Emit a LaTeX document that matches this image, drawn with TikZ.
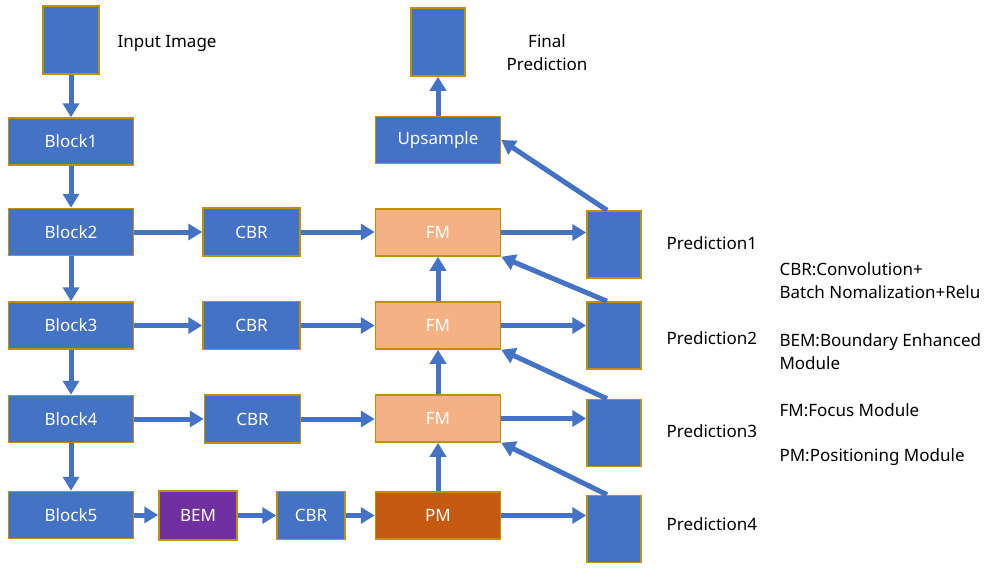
\documentclass[tikz,border=0pt]{standalone}
\usepackage{fontspec}
\setmainfont{Noto Sans}
\usepackage{xcolor}
\usepackage{tikz}
\usetikzlibrary{arrows,arrows.meta,positioning,shapes,calc}
\definecolor{boxblue}{HTML}{4472C4}
\definecolor{boxgold}{HTML}{BF9000}
\definecolor{fmorange}{HTML}{F4B183}
\definecolor{pmorange}{HTML}{C55A11}
\definecolor{bempurple}{HTML}{7030A0}
\tikzset{
  blk/.style = {draw = boxgold, line width = 1.5pt, fill = boxblue, text = white, inner sep = 0pt},
  wide/.style = {blk, minimum width = 125pt, minimum height = 47pt},
  tall/.style = {blk, minimum width = 54pt, minimum height = 67pt},
  flow/.style = {-{Triangle[width = 16pt, length = 14pt]}, line width = 5pt, draw = boxblue}
}
\begin{document}
\begin{tikzpicture}[x = 1pt, y = -1pt, font = \fontsize{17}{23}\selectfont]
    \useasboundingbox (0,0) rectangle (997,571);
    \node[tall, minimum width = 56pt, minimum height = 68pt] (inp) at (71,40) {};
    \node[anchor = west] (inplabel) at (114,43) {Input Image};
    \node[wide] (b1) at (71,141.5) {Block1};
    \node[wide] (b2) at (71,232) {Block2};
    \node[wide] (b3) at (71,325.5) {Block3};
    \node[wide] (b4) at (71,419) {Block4};
    \node[wide] (b5) at (71,515) {Block5};
    \node[blk, minimum width = 97pt, minimum height = 48pt] (cbr2) at (251.5,232) {CBR};
    \node[blk, minimum width = 97pt, minimum height = 48pt] (cbr3) at (251.5,325.5) {CBR};
    \node[blk, minimum width = 96pt, minimum height = 48pt] (cbr4) at (252.5,419) {CBR};
    \node[blk, minimum width = 78pt, minimum height = 49pt, fill = bempurple] (bem) at (198,515.5) {BEM};
    \node[blk, minimum width = 68pt, minimum height = 48pt] (cbr5) at (311,515.5) {CBR};
    \node[wide, fill = fmorange] (fm1) at (438,232.5) {FM};
    \node[wide, fill = fmorange] (fm2) at (438,325.5) {FM};
    \node[wide, fill = fmorange] (fm3) at (438,418.5) {FM};
    \node[wide, fill = pmorange] (pm) at (438,515.5) {PM};
    \node[wide] (up) at (438,140) {Upsample};
    \node[tall, minimum height = 68pt] (fin) at (438,42) {};
    \node[align = center] (finlabel) at (547,52.5) {Final\\Prediction};
    \node[tall] (p1) at (614,244.5) {};
    \node[tall] (p2) at (614,335.5) {};
    \node[tall] (p3) at (614,433) {};
    \node[tall] (p4) at (614,529) {};
    \node[anchor = west] (p1label) at (663,243) {Prediction1};
    \node[anchor = west] (p2label) at (663,338) {Prediction2};
    \node[anchor = west] (p3label) at (663,431) {Prediction3};
    \node[anchor = west] (p4label) at (663,524) {Prediction4};
    \node[anchor = west, align = left] (cbrkey) at (776,280.5) {CBR:Convolution+\\Batch Nomalization+Relu};
    \node[anchor = west, align = left] (bemkey) at (776,351.5) {BEM:Boundary Enhanced\\Module};
    \node[anchor = west] (fmkey) at (776,410) {FM:Focus Module};
    \node[anchor = west] (pmkey) at (776,457) {PM:Positioning Module};
    \draw[flow] (inp) -- (b1);
    \draw[flow] (b1) -- (b2);
    \draw[flow] (b2) -- (b3);
    \draw[flow] (b3) -- (b4);
    \draw[flow] (b4) -- (b5);
    \draw[flow] (b2.east) -- (b2.east -| cbr2.west);
    \draw[flow] (b3.east) -- (b3.east -| cbr3.west);
    \draw[flow] (b4.east) -- (b4.east -| cbr4.west);
    \draw[flow] (b5.east) -- (b5.east -| bem.west);
    \draw[flow] (bem) -- (cbr5);
    \draw[flow] (cbr5) -- (pm);
    \draw[flow] (cbr2.east) -- (cbr2.east -| fm1.west);
    \draw[flow] (cbr3.east) -- (cbr3.east -| fm2.west);
    \draw[flow] (cbr4.east) -- (cbr4.east -| fm3.west);
    \draw[flow] (pm) -- (fm3);
    \draw[flow] (fm3) -- (fm2);
    \draw[flow] (fm2) -- (fm1);
    \draw[flow] (up) -- (fin);
    \draw[flow] (fm1.east) -- (fm1.east -| p1.west);
    \draw[flow] (fm2.east) -- (fm2.east -| p2.west);
    \draw[flow] (fm3.east) -- (fm3.east -| p3.west);
    \draw[flow] (pm.east) -- (pm.east -| p4.west);
    \draw[flow] ([xshift = -7pt]p1.north) -- (up.east);
    \draw[flow] ([xshift = -7pt]p2.north) -- (fm1.south east);
    \draw[flow] ([xshift = -7pt]p3.north) -- (fm2.south east);
    \draw[flow] ([xshift = -7pt]p4.north) -- (fm3.south east);
\end{tikzpicture}
\end{document}
